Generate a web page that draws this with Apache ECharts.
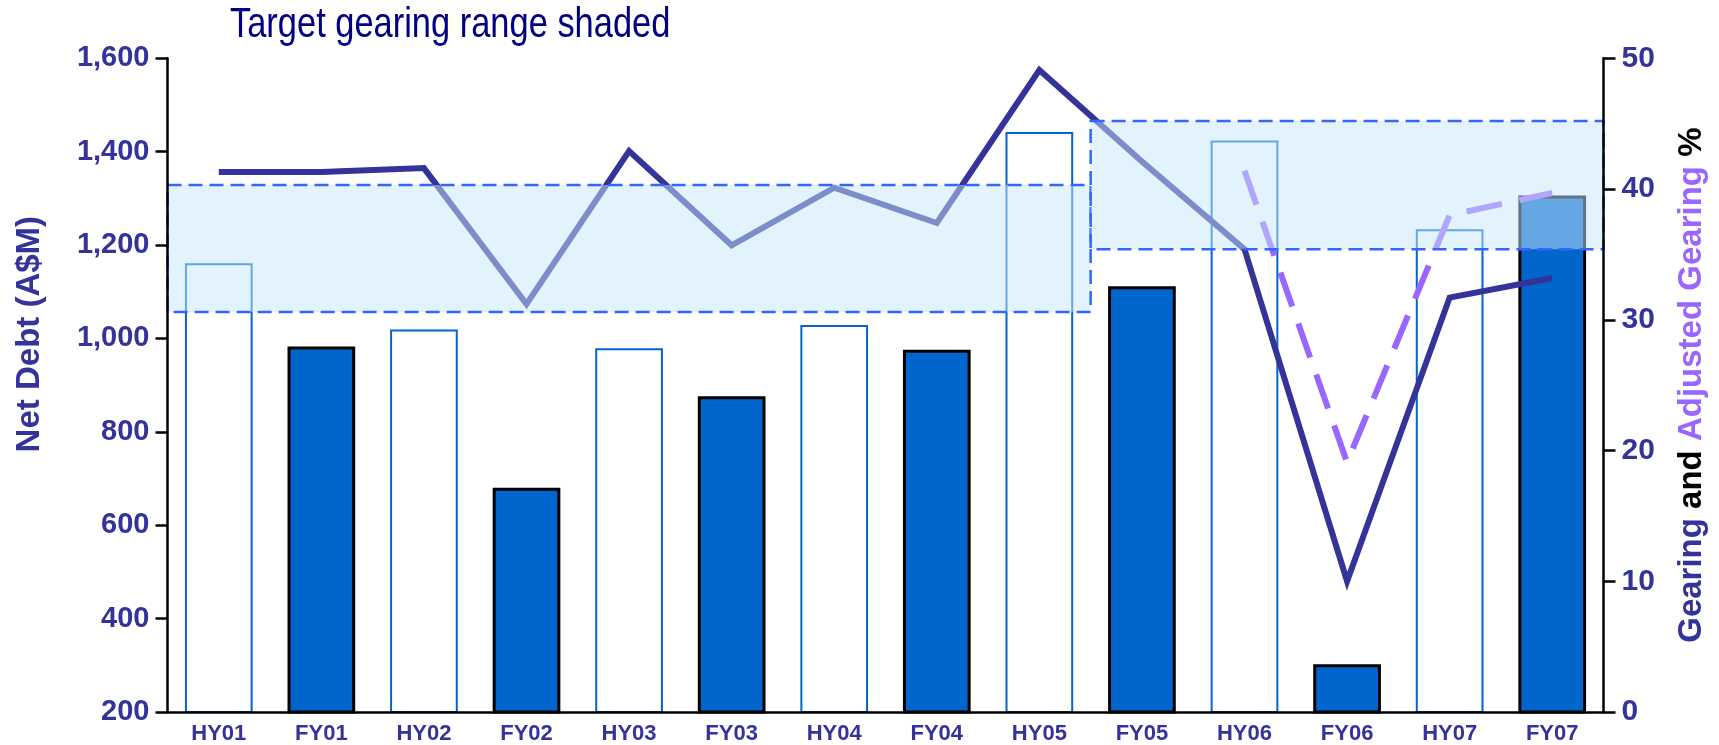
<!DOCTYPE html>
<html>
<head>
<meta charset="utf-8">
<script src="https://cdn.jsdelivr.net/npm/echarts@6/dist/echarts.min.js"></script>
<style>
    html, body { margin: 0; padding: 0; background: #fff; }
    #main { width: 1719px; height: 745px; }
</style>
</head>
<body>
<div id="main"></div>
<script>
// periods on the x axis
const periods = ['HY01', 'FY01', 'HY02', 'FY02', 'HY03', 'FY03', 'HY04', 'FY04', 'HY05', 'FY05', 'HY06', 'FY06', 'HY07', 'FY07'];
// net debt A$M (left axis)
const netDebt = [1161, 983, 1019, 680, 979, 876, 1029, 976, 1442, 1112, 1424, 302, 1234, 1306];
// gearing % (right axis)
const gearing = [41.3, 41.3, 41.6, 31.2, 42.9, 35.7, 40.1, 37.4, 49.1, 42.1, 35.4, 10.0, 31.7, 33.2];
// adjusted gearing %, only from HY06
const adjustedGearing = [null, null, null, null, null, null, null, null, null, null, 41.4, 19.1, 38.0, 39.7];
// target gearing ranges (shaded)
const targetFrom = ['HY01', 'FY05'];
const targetTo = ['HY05', 'FY07'];
const targetLow = [30.6, 35.4];
const targetHigh = [40.3, 45.2];
// tick labels
const leftTicks = [200, 1600, 200];   // min, max, interval
const rightTicks = [0, 50, 10];

const labelColor = '#333399';
const fontBase = 'Liberation Sans, Arial, sans-serif';

let myChart = echarts.init(document.getElementById('main'));

let bandData = targetFrom.map((f, i) => [periods.indexOf(f), targetLow[i], periods.indexOf(targetTo[i]), targetHigh[i]]);

let option = {
    animation: false,
    graphic: [
        {
            // title in a narrow face: no Arial Narrow here, so squeeze the normal one
            type: 'text',
            x: 230,
            y: 25,
            scaleX: 0.82,
            style: {
                text: 'Target gearing range shaded',
                fontFamily: fontBase,
                fontSize: 42,
                fill: '#000080',
                align: 'left',
                verticalAlign: 'middle'
            }
        }
    ],
    grid: {
        left: 167.5,
        right: 115.5,
        top: 58.3,
        bottom: 30
    },
    xAxis: {
        type: 'category',
        data: periods,
        z: 10,
        axisTick: { show: false },
        axisLine: { lineStyle: { color: '#000', width: 2.5 } },
        axisLabel: {
            margin: 11,
            color: labelColor,
            fontFamily: fontBase,
            fontWeight: 'bold',
            fontSize: 22
        }
    },
    yAxis: [
        {
            type: 'value',
            min: leftTicks[0],
            max: leftTicks[1],
            interval: leftTicks[2],
            z: 10,
            name: 'Net Debt (A$M)',
            nameLocation: 'middle',
            nameRotate: 90,
            nameGap: 121,
            nameTextStyle: {
                color: labelColor,
                fontFamily: fontBase,
                fontWeight: 'bold',
                fontSize: 33,
                padding: [0, 0, 0, 102]     // push the name up the axis
            },
            splitLine: { show: false },
            axisLine: { show: true, lineStyle: { color: '#000', width: 2.5 } },
            axisTick: { show: true, length: 12, lineStyle: { color: '#000', width: 2.5 } },
            axisLabel: {
                margin: 18,
                color: labelColor,
                fontFamily: fontBase,
                fontWeight: 'bold',
                fontSize: 29,
                formatter: v => v.toLocaleString('en-US')
            }
        },
        {
            type: 'value',
            position: 'right',
            min: rightTicks[0],
            max: rightTicks[1],
            interval: rightTicks[2],
            z: 10,
            name: '{g|Gearing} {k|and} {p|Adjusted Gearing} {k|%}',
            nameLocation: 'middle',
            nameRotate: 90,
            nameGap: 72,
            nameTextStyle: {
                fontFamily: fontBase,
                fontWeight: 'bold',
                fontSize: 33,
                color: '#000',
                rich: {
                    g: { color: labelColor, fontFamily: fontBase, fontWeight: 'bold', fontSize: 33 },
                    k: { color: '#000', fontFamily: fontBase, fontWeight: 'bold', fontSize: 33 },
                    p: { color: '#9966ff', fontFamily: fontBase, fontWeight: 'bold', fontSize: 33 }
                }
            },
            splitLine: { show: false },
            axisLine: { show: true, lineStyle: { color: '#000', width: 2.5 } },
            axisTick: { show: true, length: 12, lineStyle: { color: '#000', width: 2.5 } },
            axisLabel: {
                margin: 18,
                color: labelColor,
                fontFamily: fontBase,
                fontWeight: 'bold',
                fontSize: 30
            }
        }
    ],
    series: [
        {
            // net debt bars: half years hollow, full years filled
            name: 'Net Debt',
            type: 'bar',
            yAxisIndex: 0,
            barWidth: '66%',
            z: 2,
            data: netDebt.map((v, i) => ({
                value: v,
                itemStyle: periods[i].startsWith('HY')
                    ? { color: '#fff', borderColor: '#0066cc', borderWidth: 2 }
                    : { color: '#0066cc', borderColor: '#000', borderWidth: 3 }
            }))
        },
        {
            name: 'Gearing',
            type: 'line',
            yAxisIndex: 1,
            z: 3,
            data: gearing,
            symbol: 'none',
            lineStyle: { color: '#333399', width: 6, cap: 'butt', join: 'miter' }
        },
        {
            name: 'Adjusted Gearing',
            type: 'line',
            yAxisIndex: 1,
            z: 3,
            data: adjustedGearing,
            symbol: 'none',
            lineStyle: { color: '#9966ff', width: 6, type: [36, 18], cap: 'butt', join: 'miter' }
        },
        {
            // target gearing ranges, drawn on top with transparency
            name: 'Target',
            type: 'custom',
            yAxisIndex: 1,
            z: 5,
            clip: false,
            silent: true,
            encode: { x: [0, 2], y: [1, 3] },
            data: bandData,
            renderItem: function (params, api) {
                let bw = api.size([1, 0])[0];
                let p0 = api.coord([api.value(0), api.value(3)]);
                let p1 = api.coord([api.value(2), api.value(1)]);
                return {
                    type: 'rect',
                    shape: { x: p0[0] - bw / 2, y: p0[1], width: p1[0] - p0[0] + bw, height: p1[1] - p0[1] },
                    style: {
                        fill: 'rgba(199,231,251,0.5)',
                        stroke: '#3366ff',
                        lineWidth: 2.5,
                        lineDash: [14, 7]
                    }
                };
            }
        }
    ]
};

myChart.setOption(option);
</script>
</body>
</html>
